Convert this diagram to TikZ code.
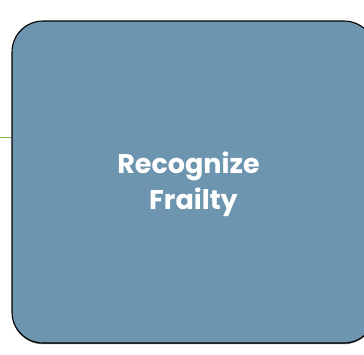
\documentclass[tikz,border=0pt]{standalone}
\usepackage{fontspec}
\setmainfont{Poppins}
\usetikzlibrary{shadows}
\definecolor{boxfill}{HTML}{6D95AF}
\definecolor{linkgreen}{HTML}{7DB84A}
\tikzset{
  bigbox/.style={draw=black, line width=1.1pt, fill=boxfill, rounded corners=31pt,
    minimum width=363pt, minimum height=322pt, inner sep=0pt,
    drop shadow={shadow xshift=0pt, shadow yshift=-1.2pt, opacity=0.6, fill=black}},
  boxlabel/.style={text=white, font=\fontsize{27}{36}\selectfont\bfseries, align=center, inner sep=0pt},
  link/.style={draw=linkgreen, line width=1.4pt}
}
\begin{document}
\begin{tikzpicture}[x=1pt,y=-1pt]
\useasboundingbox (0,0) rectangle (364,354);
\coordinate (start) at (0,137.5);
\node[bigbox] (box) at (193.5,182) {};
\node[boxlabel] (lbl) at ([yshift=-2pt]box.center) {Recognize\kern10pt\\Frailty};
\draw[link] (start) -- (start -| box.west);
\end{tikzpicture}
\end{document}
